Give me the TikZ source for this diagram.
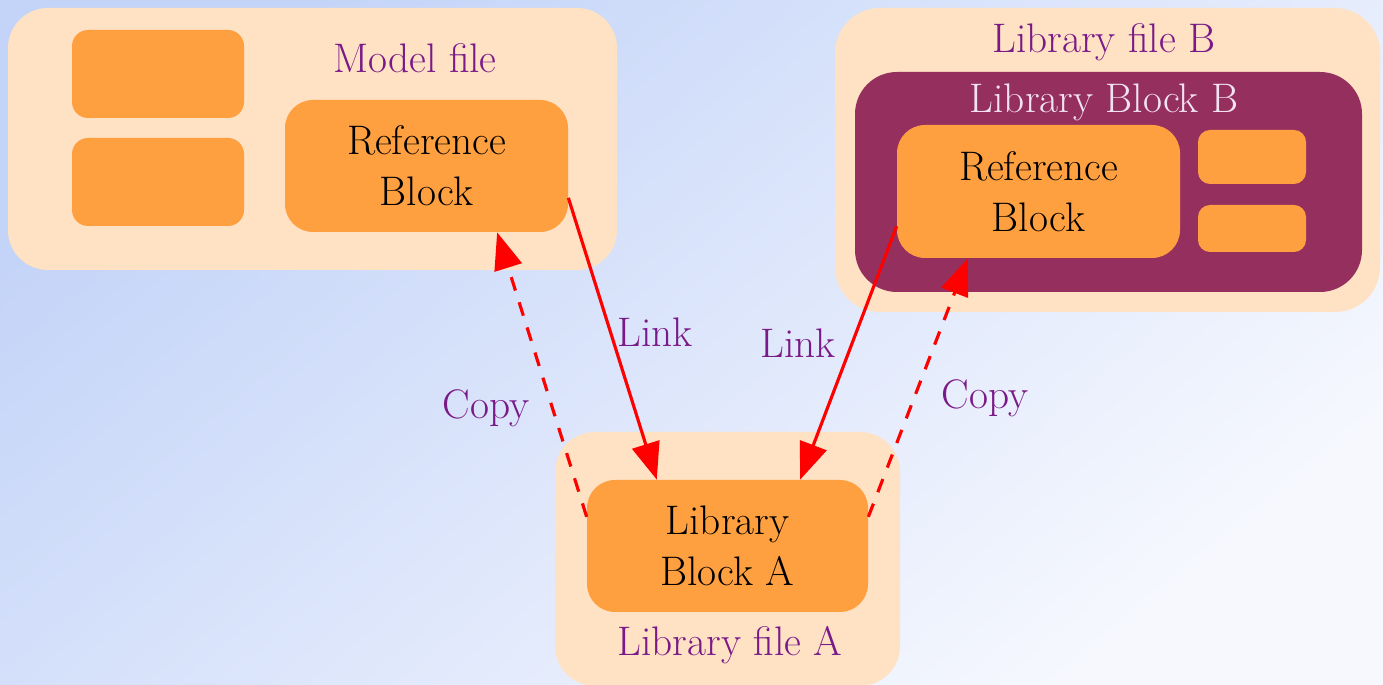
\documentclass[tikz,border=0pt]{standalone}
\usetikzlibrary{arrows.meta,calc}
\definecolor{peach}{HTML}{FFE1C3}
\definecolor{orng}{HTML}{FFA040}
\definecolor{maroon}{HTML}{95305E}
\definecolor{purp}{HTML}{7A1A88}
\definecolor{lpink}{HTML}{F2E2F2}
\definecolor{bgA}{HTML}{C4D4F8}
\definecolor{bgB}{HTML}{F6F8FE}
\definecolor{arrred}{HTML}{FF0000}
\newcommand{\pxu}{0.02cm}
\begin{document}
\begin{tikzpicture}[x=0.02cm,y=-0.02cm,
  rbox/.style={inner sep=0pt, draw=none},
  filebox/.style={rbox, fill=peach, rounded corners=40*\pxu},
  blk/.style={rbox, fill=orng, rounded corners=28*\pxu, align=center, font=\fontsize{23.5}{29}\selectfont, text=black},
  smallblk/.style={rbox, fill=orng, rounded corners=16*\pxu},
  lbl/.style={inner sep=0pt, text=purp, font=\fontsize{23.5}{29}\selectfont},
  linkarrow/.style={draw=arrred, line width=1.8pt, -{Triangle[length=21pt,width=16pt]}},
  copyarrow/.style={linkarrow, dash pattern=on 8pt off 7pt}]
\useasboundingbox (0,0) rectangle (1383,685);
\begin{scope}[y=0.02cm]
\shade[shading=axis, top color=bgA, bottom color=bgB, shading angle=40] (0,0) rectangle (1383,-685);
\end{scope}

% Model file
\node[filebox, minimum width=609*\pxu, minimum height=262*\pxu] (modelfile) at (312.5,139) {};
\node[smallblk, minimum width=172*\pxu, minimum height=88*\pxu] (s1) at (158,74) {};
\node[smallblk, minimum width=172*\pxu, minimum height=88*\pxu] (s2) at (158,182) {};
\node[blk, minimum width=283*\pxu, minimum height=132*\pxu] (refA) at (426.5,166) {Reference\\Block};
\node[lbl] (modellbl) at (415,58) {Model file};

% Library file B
\node[filebox, rounded corners=45*\pxu, minimum width=545*\pxu, minimum height=304*\pxu] (libfileB) at (1107.5,160) {};
\node[rbox, fill=maroon, rounded corners=42*\pxu, minimum width=507*\pxu, minimum height=220*\pxu] (libblockB) at (1108.5,182) {};
\node[blk, minimum width=283*\pxu, minimum height=133*\pxu] (refB) at (1038.5,191.5) {Reference\\Block};
\node[smallblk, rounded corners=12*\pxu, minimum width=108*\pxu, minimum height=54*\pxu] (s3) at (1252,157) {};
\node[smallblk, rounded corners=12*\pxu, minimum width=108*\pxu, minimum height=47*\pxu] (s4) at (1252,228.5) {};
\node[lbl] (libfileBlbl) at (1104,42) {Library file B};
\node[lbl, text=lpink] (libblockBlbl) at (1104,102) {Library Block B};

% Library file A
\node[filebox, minimum width=345*\pxu, minimum height=254*\pxu] (libfileA) at (727.5,559) {};
\node[blk, minimum width=281*\pxu, minimum height=132*\pxu] (libA) at (727.5,546) {Library\\Block A};
\node[lbl] (libfileAlbl) at (730,645) {Library file A};

% connectors
\draw[linkarrow] ($(refA.north east)!0.74!(refA.south east)$) -- ($(libA.north west)!0.249!(libA.north east)$);
\draw[linkarrow] ($(refB.north west)!0.76!(refB.south west)$) -- ($(libA.north west)!0.758!(libA.north east)$);
\draw[copyarrow] ($(libA.north west)!0.28!(libA.south west)$) -- ($(refA.south west)!0.749!(refA.south east)$);
\draw[copyarrow] ($(libA.north east)!0.28!(libA.south east)$) -- ($(refB.south west)!0.251!(refB.south east)$);

% labels
\node[lbl] (link1) at (655,332) {Link};
\node[lbl] (link2) at (798,343) {Link};
\node[lbl] (copy1) at (486,408) {Copy};
\node[lbl] (copy2) at (985,398) {Copy};
\end{tikzpicture}
\end{document}
